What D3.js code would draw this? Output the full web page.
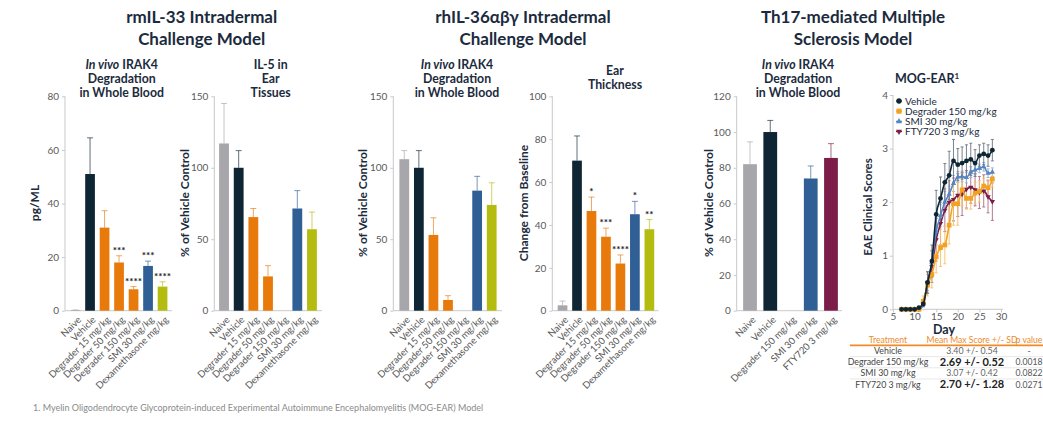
<!DOCTYPE html>
<html><head><meta charset="utf-8">
<script src="https://cdn.jsdelivr.net/npm/d3@7"></script>
<style>
body{margin:0;background:#fff;}
svg{font-family:Lato,"Open Sans",sans-serif;}
</style></head>
<body><svg id="c" width="1043" height="448"></svg>
<script>
// ---------- DATA ----------
const categoriesA = ["Naive","Vehicle","Degrader 15 mg/kg","Degrader 50 mg/kg","Degrader 150 mg/kg","SMI 30 mg/kg","Dexamethasone mg/kg"];
const categoriesB = ["Naive","Vehicle","Degrader 150 mg/kg","SMI 30 mg/kg","FTY720 3 mg/kg"];

const il33IrakValues = [0.2, 51, 31, 18, 8, 16.7, 9];
const il33IrakErrors = [0.1, 13.5, 6.3, 2.5, 1, 1.8, 1.8];
const il33IrakStars  = ["", "", "", "***", "****", "***", "****"];

const il5Values = [117, 100, 65.5, 24, null, 71.5, 57];
const il5Errors = [28, 12, 6, 7.5, null, 12.5, 12];

const il36IrakValues = [106, 100, 53, 7.5, null, 84, 74];
const il36IrakErrors = [6, 12, 12, 3, null, 10, 15.5];

const earValues = [2.5, 70, 46.5, 34.5, 22, 45, 38];
const earErrors = [2, 11.5, 6.5, 4, 4, 6, 4.5];
const earStars  = ["", "", "*", "***", "****", "*", "**"];

const msIrakValues = [82, 100, null, 74, 85.5];
const msIrakErrors = [12.5, 6.5, null, 7, 8];

const ticks80 = [0, 20, 40, 60, 80];
const ticks150 = [0, 50, 100, 150];
const ticks100 = [0, 20, 40, 60, 80, 100];
const ticks120 = [0, 20, 40, 60, 80, 100, 120];

const days = [7,8,9,10,11,12,13,14,15,16,17,18,19,20,21,22,23,24,25,26,27,28];
const vehicleScores  = [0,0,0,0,0.03,0.1,0.5,0.9,1.77,2.07,2.37,2.5,2.77,2.7,2.73,2.77,2.8,2.73,2.87,2.9,2.87,2.97];
const vehicleSD      = [0,0,0,0,0,0.05,0.2,0.3,0.45,0.4,0.35,0.45,0.4,0.3,0.3,0.3,0.3,0.25,0.2,0.2,0.2,0.2];
const degraderScores = [0,0,0,0,0,0.15,0.45,0.65,0.98,1.15,1.2,1.57,1.97,1.97,2.23,2.07,2.07,2.17,2.2,2.3,2.27,2.43];
const degraderSD     = [0,0,0,0,0,0.1,0.2,0.25,0.3,0.35,0.35,0.35,0.4,0.4,0.3,0.2,0.2,0.2,0.2,0.15,0.15,0.15];
const smiScores      = [0,0,0,0,0,0.1,0.5,0.88,1.45,1.75,2.0,2.15,2.35,2.47,2.48,2.46,2.56,2.6,2.63,2.66,2.54,2.56];
const smiSD          = [0,0,0,0,0,0.05,0.15,0.2,0.25,0.2,0.2,0.15,0.15,0.1,0.1,0.1,0.1,0.08,0.08,0.08,0.08,0.08];
const ftyScores      = [0,0,0,0,0,0.1,0.5,0.8,1.3,1.6,1.85,2.0,2.05,2.13,2.15,2.24,2.28,2.23,2.18,2.21,2.1,2.01];
const ftySD          = [0,0,0,0,0,0.05,0.2,0.3,0.4,0.4,0.4,0.4,0.4,0.4,0.4,0.35,0.3,0.3,0.3,0.3,0.3,0.35];
const seriesNames = ["Vehicle","Degrader 150 mg/kg","SMI 30 mg/kg","FTY720 3 mg/kg"];
const dayTicks = [5,10,15,20,25,30];
const scoreTicks = [0,1,2,3,4];

const tableHeader = ["Treatment","Mean Max Score +/- SD","p value"];
const tableTreatments = ["Vehicle","Degrader 150 mg/kg","SMI 30 mg/kg","FTY720 3 mg/kg"];
const tableMeans = ["3.40 +/- 0.54","2.69 +/- 0.52","3.07 +/- 0.42","2.70 +/- 1.28"];
const tableBold = [false,true,false,true];
const tablePValues = ["-","0.0018","0.0822","0.0271"];

// ---------- STYLE ----------
const NAVY = "#1b2b3d";
const colorsA = ["#a6a6ab","#0e2634","#e87a0c","#e87a0c","#e87a0c","#2f5f94","#b5bc10"];
const colorsB = ["#a6a6ab","#0e2634","#e87a0c","#2f5f94","#7b1d48"];
const lineColors = ["#0e2634","#f3a11f","#5585c2","#7b1d48"];
const errColors  = ["#6a7580","#f6bf6a","#8fb0da","#a86a88"];

const svg = d3.select("#c");

// main titles
[[201.7,["rmIL-33 Intradermal","Challenge Model"]],
 [523,["rhIL-36\u03B1\u03B2\u03B3 Intradermal","Challenge Model"]],
 [853,["Th17-mediated Multiple","Sclerosis Model"]]].forEach(([cx,lines])=>{
  lines.forEach((l,i)=>svg.append("text").attr("x",cx).attr("y",23+i*22)
    .attr("text-anchor","middle").attr("font-size",17).attr("font-weight",700)
    .attr("fill",NAVY).text(l));
});

function subtitle(cx, lines, y0){
  lines.forEach((l,i)=>{
    const t = svg.append("text").attr("x",cx).attr("y",y0+i*14.2)
      .attr("text-anchor","middle").attr("font-size",12.3).attr("font-weight",700).attr("fill",NAVY);
    if(Array.isArray(l)){ t.append("tspan").attr("font-style","italic").text(l[0]); t.append("tspan").text(l[1]); }
    else t.text(l);
  });
}

function barPanel(o){
  const y = d3.scaleLinear().domain([0,o.max]).range([310.7,96.3]);
  const x = d3.scaleBand().domain(o.cats).range(o.range).paddingInner(o.pad).paddingOuter(o.pad/2);
  const g = svg.append("g");
  const ya = g.append("g").attr("transform",`translate(${o.axisX},0)`)
    .call(d3.axisLeft(y).tickValues(o.ticks).tickSize(3).tickPadding(3));
  ya.select(".domain").attr("stroke","#c9c9c9").attr("d",`M0,${y(o.max)}V${y(0)}`);
  ya.selectAll(".tick line").attr("stroke","#c9c9c9");
  ya.selectAll("text").attr("font-size",10).attr("fill","#5a5a5a").attr("font-family","Lato");
  g.append("line").attr("x1",o.axisX).attr("x2",o.axisEnd).attr("y1",y(0)).attr("y2",y(0)).attr("stroke","#c9c9c9");
  o.cats.forEach((c,i)=>{
    const v=o.values[i]; if(v==null) return;
    const cx = x(c)+x.bandwidth()/2;
    const top = y(v+o.errors[i]);
    g.append("line").attr("x1",cx).attr("x2",cx).attr("y1",y(v)).attr("y2",top)
      .attr("stroke",o.colors[i]).attr("stroke-opacity",0.65).attr("stroke-width",1);
    g.append("line").attr("x1",cx-3).attr("x2",cx+3).attr("y1",top).attr("y2",top)
      .attr("stroke",o.colors[i]).attr("stroke-opacity",0.65);
    g.append("rect").attr("x",x(c)).attr("width",x.bandwidth()).attr("y",y(v)).attr("height",Math.max(y(0)-y(v),0.6))
      .attr("fill",o.colors[i]);
    if(o.stars && o.stars[i]){
      g.append("text").attr("x",cx).attr("y",top-2).attr("text-anchor","middle")
        .attr("font-size",10).attr("font-weight",700).attr("fill","#222").text(o.stars[i]);
    }
  });
  o.cats.forEach(c=>{
    const cx = x(c)+x.bandwidth()/2;
    g.append("text").attr("transform",`translate(${cx+4},${318}) rotate(-45)`)
      .attr("text-anchor","end").attr("font-size",9.6).attr("fill","#555").attr("dy","0.35em").text(c);
  });
  g.append("text").attr("transform",`translate(${o.labelX},${203}) rotate(-90)`)
    .attr("text-anchor","middle").attr("dy","0.35em").attr("font-size",12).attr("font-weight",700).attr("fill",NAVY).text(o.ylabel);
}

barPanel({cats:categoriesA,values:il33IrakValues,errors:il33IrakErrors,stars:il33IrakStars,colors:colorsA,
  max:80,ticks:ticks80,axisX:65,axisEnd:172,range:[68.3,169.8],pad:0.33,labelX:35,ylabel:"pg/ML"});
barPanel({cats:categoriesA,values:il5Values,errors:il5Errors,colors:colorsA,
  max:150,ticks:ticks150,axisX:214.3,axisEnd:322,range:[216.7,319.3],pad:0.33,labelX:185,ylabel:"% of Vehicle Control"});
barPanel({cats:categoriesA,values:il36IrakValues,errors:il36IrakErrors,colors:colorsA,
  max:150,ticks:ticks150,axisX:393.3,axisEnd:502,range:[397,499],pad:0.33,labelX:363,ylabel:"% of Vehicle Control"});
barPanel({cats:categoriesA,values:earValues,errors:earErrors,stars:earStars,colors:colorsA,
  max:100,ticks:ticks100,axisX:552.3,axisEnd:658.5,range:[555.3,656.6],pad:0.33,labelX:524,ylabel:"Change from Baseline"});
barPanel({cats:categoriesB,values:msIrakValues,errors:msIrakErrors,colors:colorsB,
  max:120,ticks:ticks120,axisX:736.7,axisEnd:842,range:[739.9,841.1],pad:0.32,labelX:709,ylabel:"% of Vehicle Control"});

subtitle(121.7,[["In vivo"," IRAK4"],"Degradation","in Whole Blood"],68.5);
subtitle(270.7,["IL-5 in","Ear","Tissues"],68.5);
subtitle(457,[["In vivo"," IRAK4"],"Degradation","in Whole Blood"],68.5);
subtitle(615,["Ear","Thickness"],75);
subtitle(798,[["In vivo"," IRAK4"],"Degradation","in Whole Blood"],68.5);

// ---------- MOG-EAR line chart ----------
{
  const x = d3.scaleLinear().domain([5,30]).range([893,1001]);
  const y = d3.scaleLinear().domain([0,4]).range([309.3,95]);
  const g = svg.append("g");
  const ya = g.append("g").attr("transform","translate(893,0)").call(d3.axisLeft(y).tickValues(scoreTicks).tickFormat(d3.format("d")).tickSize(3).tickPadding(2));
  ya.select(".domain").attr("stroke","#c9c9c9").attr("d",`M0,${y(4)}V${y(0)}`);
  ya.selectAll(".tick line").attr("stroke","#c9c9c9");
  ya.selectAll("text").attr("font-size",10).attr("fill","#5a5a5a").attr("font-family","Lato");
  const xa = g.append("g").attr("transform","translate(0,309.3)").call(d3.axisBottom(x).tickValues(dayTicks).tickFormat(d3.format("d")).tickSize(3).tickPadding(1));
  xa.select(".domain").attr("stroke","#c9c9c9").attr("d",`M893,0H1003`);
  xa.selectAll(".tick line").attr("stroke","#c9c9c9");
  xa.selectAll("text").attr("font-size",10).attr("fill","#5a5a5a").attr("font-family","Lato");
  g.append("text").attr("x",944).attr("y",334).attr("text-anchor","middle").attr("font-size",12.5).attr("font-weight",700).attr("fill",NAVY).text("Day");
  g.append("text").attr("transform","translate(868,207) rotate(-90)").attr("text-anchor","middle").attr("dy","0.35em")
    .attr("font-size",11.5).attr("font-weight",700).attr("fill",NAVY).text("EAE Clinical Scores");
  const t = g.append("text").attr("x",927).attr("y",82.5).attr("text-anchor","middle").attr("font-size",12.5).attr("font-weight",700).attr("fill",NAVY);
  t.append("tspan").text("MOG-EAR");
  t.append("tspan").attr("font-size",8).attr("dy","-4").text("1");

  const allScores = [vehicleScores,degraderScores,smiScores,ftyScores];
  const allSD = [vehicleSD,degraderSD,smiSD,ftySD];
  const shapes = [d3.symbolCircle,d3.symbolSquare,d3.symbolTriangle,d3.symbolTriangle];
  const sizes = [18,22,12,12];
  const line = d3.line().x(d=>x(d[0])).y(d=>y(d[1])).curve(d3.curveMonotoneX);
  [3,2,1,0].forEach(si=>{
    days.forEach((d,i)=>{
      const v=allScores[si][i], e=allSD[si][i]; if(!e) return;
      g.append("line").attr("x1",x(d)).attr("x2",x(d)).attr("y1",y(v-e)).attr("y2",y(v+e)).attr("stroke",errColors[si]).attr("stroke-width",0.9);
      [v-e,v+e].forEach(b=>g.append("line").attr("x1",x(d)-1.5).attr("x2",x(d)+1.5).attr("y1",y(b)).attr("y2",y(b)).attr("stroke",errColors[si]).attr("stroke-width",0.9));
    });
  });
  [3,2,1,0].forEach(si=>{
    const pts = days.map((d,i)=>[d,allScores[si][i]]);
    g.append("path").attr("d",line(pts)).attr("fill","none").attr("stroke",lineColors[si]).attr("stroke-width",1.6);
    pts.forEach(p=>{
      g.append("path").attr("d",d3.symbol().type(shapes[si]).size(sizes[si])())
        .attr("transform",`translate(${x(p[0])},${y(p[1])})${si===3?" rotate(180)":""}`).attr("fill",lineColors[si]);
    });
  });
  seriesNames.forEach((n,i)=>{
    const ly = 101+i*10.2;
    g.append("line").attr("x1",896).attr("x2",902).attr("y1",ly).attr("y2",ly).attr("stroke",lineColors[i]).attr("stroke-width",1.2);
    g.append("path").attr("d",d3.symbol().type(shapes[i]).size(sizes[i]+4)())
      .attr("transform",`translate(899,${ly})${i===3?" rotate(180)":""}`).attr("fill",lineColors[i]);
    g.append("text").attr("x",905).attr("y",ly).attr("dy","0.35em").attr("font-size",10).attr("fill",NAVY).text(n);
  });
}

// ---------- table ----------
{
  const colX = [888, 972, 1029];
  tableHeader.forEach((h,i)=>svg.append("text").attr("x",colX[i]).attr("y",343).attr("text-anchor","middle")
    .attr("font-size",8.6).attr("fill","#ee8a28").text(h));
  svg.append("line").attr("x1",850).attr("x2",1043).attr("y1",345.3).attr("y2",345.3).attr("stroke","#ee8a28").attr("stroke-width",1.8);
  tableTreatments.forEach((tr,i)=>{
    const yy = 351 + i*11.2;
    svg.append("text").attr("x",colX[0]).attr("y",yy).attr("dy","0.35em").attr("text-anchor","middle").attr("font-size",8.8).attr("fill","#444").text(tr);
    svg.append("text").attr("x",colX[1]).attr("y",yy).attr("dy","0.35em").attr("text-anchor","middle")
      .attr("font-size",tableBold[i]?11:8.8).attr("font-weight",tableBold[i]?700:400).attr("fill",tableBold[i]?"#222":"#666").text(tableMeans[i]);
    svg.append("text").attr("x",colX[2]).attr("y",yy).attr("dy","0.35em").attr("text-anchor","middle").attr("font-size",8.6).attr("fill","#555").text(tablePValues[i]);
    if(i<3) svg.append("line").attr("x1",850).attr("x2",1043).attr("y1",yy+5.6).attr("y2",yy+5.6).attr("stroke","#d8d8d8").attr("stroke-width",0.6);
  });
}

svg.append("text").attr("x",33).attr("y",411).attr("font-size",9).attr("fill","#8a8a8a")
  .text("1. Myelin Oligodendrocyte Glycoprotein-induced Experimental Autoimmune Encephalomyelitis (MOG-EAR) Model");
</script></body></html>
